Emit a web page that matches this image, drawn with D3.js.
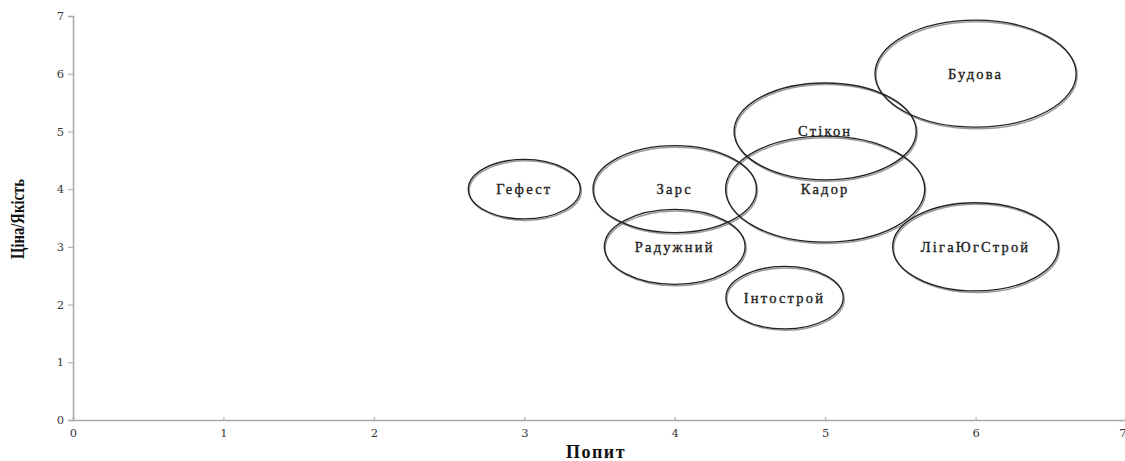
<!DOCTYPE html>
<html>
<head>
<meta charset="utf-8">
<script src="https://cdn.jsdelivr.net/npm/d3@7"></script>
<style>
  body { margin: 0; background: #fff; }
  svg { display: block; }
</style>
</head>
<body>
<div id="chart"></div>
<script>
// bubble data
const companies = ['Гефест', 'Зарс', 'Радужний', 'Інтострой', 'Кадор', 'Стікон', 'Будова', 'ЛігаЮгСтрой'];
const demand = [3, 4, 4, 4.73, 5, 5, 6, 6];
const priceQuality = [4, 4, 3, 2.12, 4, 5, 6, 3];
const sizes = [3.1, 6.6, 4.9, 3.4, 9.8, 8.2, 10, 6.8];
const ticks = [0, 1, 2, 3, 4, 5, 6, 7];

const width = 1125, height = 461;
const margin = { left: 73, right: -1, top: 16, bottom: 41 };

const svg = d3.select('#chart').append('svg')
    .attr('width', width)
    .attr('height', height);

const x = d3.scaleLinear().domain([0, 7]).range([margin.left, width - margin.right]);
const y = d3.scaleLinear().domain([0, 7]).range([height - margin.bottom, margin.top]);
const r = d3.scaleSqrt().domain([0, 10]).range([0, 53.5]);
const stretch = 1.88; // picture was stretched sideways

// axes
const xAxis = svg.append('g')
    .attr('transform', `translate(0,${y(0)})`)
    .call(d3.axisBottom(x).tickValues(ticks).tickFormat(d3.format('d')).tickSize(-3).tickPadding(9));
const yAxis = svg.append('g')
    .attr('transform', `translate(${x(0)},0)`)
    .call(d3.axisLeft(y).tickValues(ticks).tickFormat(d3.format('d')).tickSize(5).tickPadding(4));

[xAxis, yAxis].forEach(g => {
    g.select('.domain').attr('stroke', '#a8a8a8').attr('stroke-width', 1.5);
    g.selectAll('.tick line').attr('stroke', '#a8a8a8');
    g.selectAll('.tick text')
        .attr('fill', '#3a3a3a')
        .style('font-family', '"DejaVu Serif", serif')
        .style('font-size', '11.5px');
});
xAxis.selectAll('.tick').filter(d => d === 7).select('text').attr('text-anchor', 'end');

const data = companies.map((name, i) => ({ name, x: demand[i], y: priceQuality[i], s: sizes[i] }));

// soft shadow then outline
svg.append('g').selectAll('ellipse')
    .data(data)
    .enter()
    .append('ellipse')
    .attr('cx', d => x(d.x) + 1)
    .attr('cy', d => y(d.y) + 1.5)
    .attr('rx', d => r(d.s) * stretch)
    .attr('ry', d => r(d.s))
    .attr('fill', 'none')
    .attr('stroke', '#999')
    .attr('stroke-width', 1.5);

svg.append('g').selectAll('ellipse')
    .data(data)
    .enter()
    .append('ellipse')
    .attr('cx', d => x(d.x))
    .attr('cy', d => y(d.y))
    .attr('rx', d => r(d.s) * stretch)
    .attr('ry', d => r(d.s))
    .attr('fill', 'none')
    .attr('stroke', '#222')
    .attr('stroke-width', 1.3);

svg.append('g').selectAll('text')
    .data(data)
    .enter()
    .append('text')
    .attr('x', d => x(d.x))
    .attr('y', d => y(d.y) + 5)
    .attr('text-anchor', 'middle')
    .attr('fill', '#222')
    .attr('stroke', '#222')
    .attr('stroke-width', 0.35)
    .style('font-family', '"Liberation Serif", serif')
    .style('font-size', '14.5px')
    .style('letter-spacing', '2.2px')
    .text(d => d.name);

// axis titles
svg.append('text')
    .attr('x', 596)
    .attr('y', 458)
    .attr('text-anchor', 'middle')
    .attr('fill', '#111')
    .style('font-family', '"Liberation Serif", serif')
    .style('font-size', '18px')
    .style('font-weight', 'bold')
    .style('letter-spacing', '1.5px')
    .text('Попит');

svg.append('text')
    .attr('transform', 'translate(24,219) rotate(-90)')
    .attr('text-anchor', 'middle')
    .attr('fill', '#111')
    .attr('textLength', 80)
    .attr('lengthAdjust', 'spacingAndGlyphs')
    .style('font-family', '"Liberation Serif", serif')
    .style('font-size', '18px')
    .style('font-weight', 'bold')
    .text('Ціна/Якість');
</script>
</body>
</html>
